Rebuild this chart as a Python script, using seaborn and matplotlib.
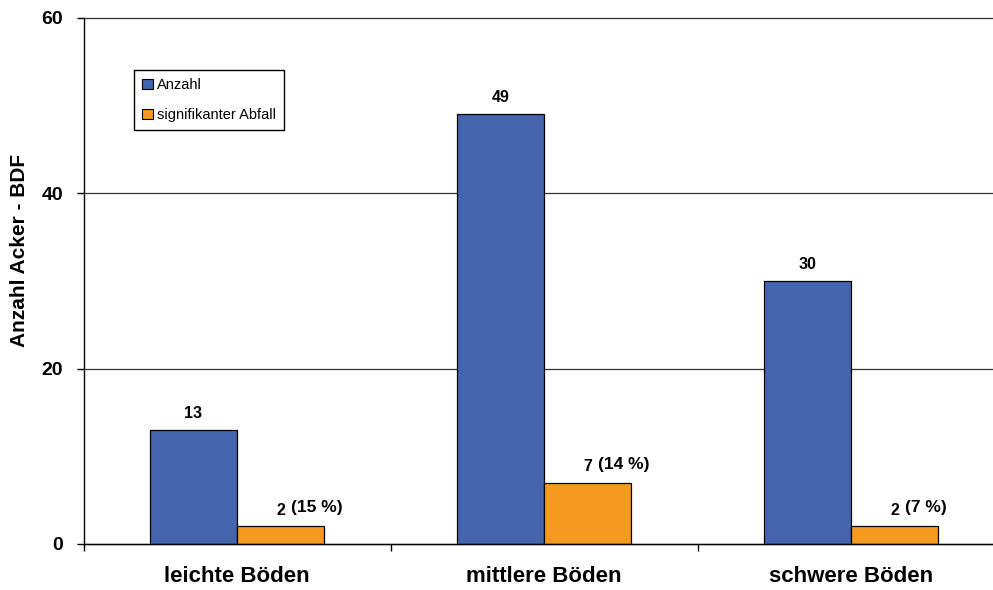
import matplotlib
matplotlib.use("Agg")
import matplotlib.pyplot as plt
import seaborn as sns
import pandas as pd
from matplotlib.ticker import FixedLocator

# ---- data ----
categories = ["leichte Böden", "mittlere Böden", "schwere Böden"]
anzahl = [13, 49, 30]
abfall = [2, 7, 2]
abfall_pct = ["(15 %)", "(14 %)", "(7 %)"]
series_names = ["Anzahl", "signifikanter Abfall"]
y_ticks = [0, 20, 40, 60]
y_label = "Anzahl Acker - BDF"

df = pd.DataFrame({
    "Kategorie": categories * 2,
    "Wert": anzahl + abfall,
    "Serie": [series_names[0]] * len(categories) + [series_names[1]] * len(categories),
})

sns.set_theme(style="white")
plt.rcParams["font.family"] = ["Liberation Sans", "DejaVu Sans"]
plt.rcParams["text.color"] = "black"
plt.rcParams["axes.labelcolor"] = "black"
plt.rcParams["xtick.color"] = "black"
plt.rcParams["ytick.color"] = "black"

W, H = 993, 590
fig = plt.figure(figsize=(W / 100, H / 100), dpi=100)
ax = fig.add_axes([83.5 / W, 46 / H, 921 / W, 526 / H])

sns.barplot(data=df, x="Kategorie", y="Wert", hue="Serie",
            order=categories, hue_order=series_names,
            palette=["#4464AD", "#F39A1F"], saturation=1,
            width=0.567, gap=0, edgecolor="black", linewidth=0.9,
            errorbar=None, ax=ax)

ax.set_xlim(-0.5, len(categories) - 0.5)
ax.set_ylim(0, 60)
ax.set_yticks(y_ticks)
ax.set_yticklabels([str(t) for t in y_ticks], fontsize=14, fontweight="bold", color="black")
ax.set_xticks(range(len(categories)))
ax.set_xticklabels(categories, fontsize=16, fontweight="bold", color="black")
ax.xaxis.set_minor_locator(FixedLocator([i - 0.5 for i in range(len(categories) + 1)]))
ax.tick_params(axis="x", which="major", length=0, pad=16)
ax.tick_params(axis="x", which="minor", length=5, width=1, color="black", direction="out", bottom=True)
ax.tick_params(axis="y", which="major", length=5, width=1, color="black", direction="out", left=True, pad=9.5)

ax.set_xlabel("")
ax.set_ylabel(y_label, fontsize=15, fontweight="bold", color="black")
ax.yaxis.set_label_coords((29 - 83.5) / 921, (544 - 250) / 526)

ax.yaxis.grid(True, color="#333333", linewidth=0.9)
ax.set_axisbelow(True)
for gl in ax.get_ygridlines():
    gl.set_clip_on(False)

for s in ["top", "right"]:
    ax.spines[s].set_visible(False)
for s in ["left", "bottom"]:
    ax.spines[s].set_color("black")
    ax.spines[s].set_linewidth(1)

# value labels
for bar, v in zip(ax.containers[0], anzahl):
    ax.annotate(str(v), (bar.get_x() + bar.get_width() / 2, bar.get_height()),
                xytext=(0, 12), textcoords="offset pixels", ha="center", va="baseline",
                fontsize=11.5, fontweight="bold", color="black")
for bar, v, p in zip(ax.containers[1], abfall, abfall_pct):
    cx = bar.get_x() + bar.get_width() / 2
    ax.annotate(str(v), (cx, bar.get_height()),
                xytext=(0, 11.5), textcoords="offset pixels", ha="center", va="baseline",
                fontsize=11.5, fontweight="bold", color="black")
    ax.annotate(p, (cx, bar.get_height()),
                xytext=(10, 14), textcoords="offset pixels", ha="left", va="baseline",
                fontsize=12.5, fontweight="bold", color="black")

leg = ax.legend(loc="upper left", bbox_to_anchor=((134 - 83.5) / 921, (544 - 70) / 526),
                borderaxespad=0, fancybox=False, framealpha=1, edgecolor="black",
                fontsize=10.5, handlelength=0.75, handleheight=0.75, handletextpad=0.25,
                labelspacing=1.1, borderpad=0.55, title=None)
leg.get_frame().set_linewidth(1)
for t in leg.get_texts():
    t.set_color("black")
for h in leg.legend_handles:
    h.set_edgecolor("black")
    h.set_linewidth(0.8)

fig.savefig("out.png", dpi=100)
